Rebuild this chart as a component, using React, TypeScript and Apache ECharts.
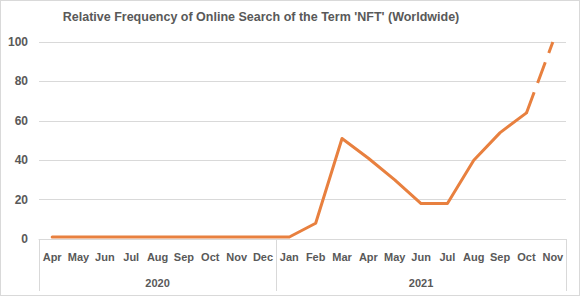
import React, { useEffect, useRef } from "react";
import * as echarts from "echarts";

const months = [
  "Apr", "May", "Jun", "Jul", "Aug", "Sep", "Oct", "Nov", "Dec",
  "Jan", "Feb", "Mar", "Apr", "May", "Jun", "Jul", "Aug", "Sep", "Oct", "Nov",
];
const years = ["2020", "2021"];
const yearStarts = [0, 9, 20]; // category boundaries of the year groups
const values = [1, 1, 1, 1, 1, 1, 1, 1, 1, 1, 8, 51, 41, 30, 18, 18, 40, 54, 64, 100];
const dashedFrom = 18; // last segment (Oct -> Nov 2021) is dashed
const yTicks = [0, 20, 40, 60, 80, 100];

const TITLE = "Relative Frequency of Online Search of the Term 'NFT' (Worldwide)";
const ORANGE = "#E8803F";
const GRAY = "#595959";
const LIGHT = "#D9D9D9";
const FONT = "'Liberation Sans', Arial, sans-serif";

export default function App() {
  const ref = useRef<HTMLDivElement>(null);
  useEffect(() => {
    if (!ref.current) return;
    const chart = echarts.init(ref.current, null, { renderer: "svg" });
    const solid = values.map((v, i) => (i <= dashedFrom ? v : "-"));
    const dashed = values.map((v, i) => (i >= dashedFrom ? v : "-"));
    const yearCenters = years.map((_, i) => (yearStarts[i] + yearStarts[i + 1]) / 2);
    chart.setOption({
      animation: false,
      graphic: [
        {
          type: "text",
          x: 261,
          y: 17,
          style: {
            text: TITLE,
            textAlign: "center",
            textVerticalAlign: "middle",
            fill: GRAY,
            font: `bold 12.5px ${FONT}`,
          },
        },
      ],
      grid: { left: 39, right: 14, top: 42, bottom: 57, containLabel: false },
      xAxis: [
        {
          type: "category",
          data: months,
          boundaryGap: true,
          axisLine: { show: true, lineStyle: { color: LIGHT, width: 1 } },
          axisTick: { show: false },
          axisLabel: { color: GRAY, fontWeight: "bold", fontSize: 11, fontFamily: FONT, margin: 12, interval: 0 },
        },
        {
          type: "value",
          min: 0,
          max: months.length,
          position: "bottom",
          axisLine: { show: false },
          splitLine: { show: false },
          axisTick: {
            show: true,
            customValues: yearStarts,
            length: 52,
            lineStyle: { color: LIGHT, width: 1 },
          },
          axisLabel: {
            customValues: yearCenters,
            formatter: (v: number) => years[yearCenters.indexOf(v)] ?? "",
            color: GRAY,
            fontWeight: "bold",
            fontSize: 11,
            fontFamily: FONT,
            margin: 38,
          },
        },
      ],
      yAxis: {
        type: "value",
        min: yTicks[0],
        max: yTicks[yTicks.length - 1],
        interval: 20,
        axisLine: { show: false },
        axisTick: { show: false },
        splitLine: { lineStyle: { color: LIGHT, width: 1 } },
        axisLabel: { color: GRAY, fontWeight: "bold", fontSize: 12, fontFamily: FONT, margin: 11 },
      },
      series: [
        {
          type: "line",
          data: solid,
          xAxisIndex: 0,
          symbol: "none",
          lineStyle: { color: ORANGE, width: 3, cap: "round", join: "round" },
        },
        {
          type: "line",
          data: dashed,
          xAxisIndex: 0,
          symbol: "none",
          lineStyle: { color: ORANGE, width: 3, type: [22, 10], cap: "butt" },
        },
      ],
    });
    return () => chart.dispose();
  }, []);
  return (
    <div
      style={{
        position: "fixed",
        left: 0,
        top: 0,
        width: 580,
        height: 296,
        boxSizing: "border-box",
        border: `1px solid ${LIGHT}`,
        background: "#fff",
      }}
    >
      <div ref={ref} style={{ position: "absolute", left: -1, top: -1, width: 580, height: 296 }} />
    </div>
  );
}
